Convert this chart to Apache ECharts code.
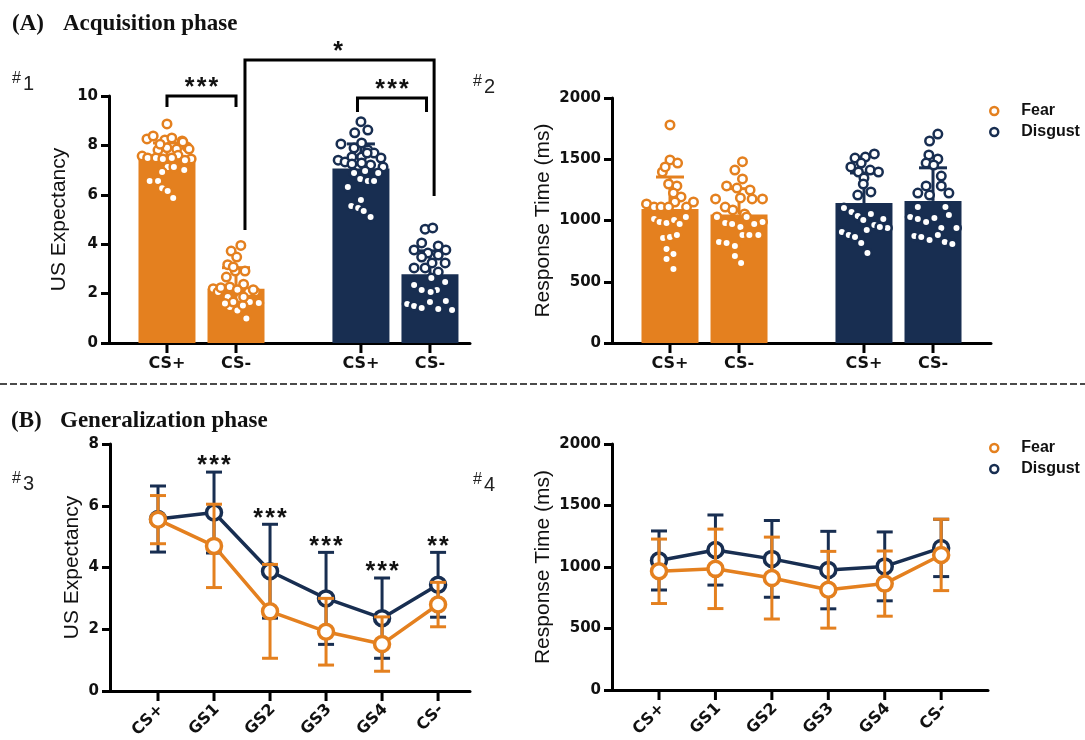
<!DOCTYPE html>
<html><head><meta charset="utf-8">
<script src="https://cdn.jsdelivr.net/npm/echarts@6/dist/echarts.min.js"></script>
<style>html,body{margin:0;padding:0;background:#fff}#c{width:1085px;height:740px}</style>
</head><body><div id="c"></div>
<script>
// ================= DATA =================
const acqCats = ['CS+', 'CS-', 'CS+', 'CS-'];
const genCats = ['CS+', 'GS1', 'GS2', 'GS3', 'GS4', 'CS-'];
const groups = ['Fear', 'Disgust'];

// Acquisition – US expectancy (bar means / SD)
const acqUSMeanFear = [7.5, 2.2];
const acqUSSdFear = [0.6, 0.85];
const acqUSMeanDisgust = [7.06, 2.78];
const acqUSSdDisgust = [1.0, 0.95];
// Acquisition – response time (bar means / SD)
const acqRTMeanFear = [1094, 1050];
const acqRTSdFear = [261, 210];
const acqRTMeanDisgust = [1143, 1160];
const acqRTSdDisgust = [245, 270];

// Individual points (values) and their horizontal jitter (in category units)
const usFearCSp = [8.87,8.26,8.38,8.22,8.30,8.18,7.94,7.81,7.85,7.60,7.45,7.57,7.49,7.49,7.45,7.49,7.40,7.13,7.13,6.92,7.00,6.56,6.56,6.27,6.15,5.87,8.14,7.85,7.90,8.05];
const usFearCSpJitter = [0,-0.29,-0.2,-0.03,0.07,0.22,0.29,-0.13,0.14,0.16,0.35,-0.36,-0.28,-0.16,-0.06,0.07,0.26,0.01,0.10,-0.07,0.25,-0.25,-0.13,-0.07,0.01,0.09,0.23,0.32,0,-0.1];
const usFearCSm = [3.95,3.72,3.48,3.17,2.91,2.91,2.67,2.38,2.27,2.20,2.06,2.16,2.06,1.86,1.82,1.66,1.62,1.46,1.32,0.99,2.24,2.06,1.66,1.52,3.08,2.16,1.60,1.86];
const usFearCSmJitter = [0.07,-0.07,0.01,-0.12,0.13,-0.01,-0.14,0.11,-0.09,-0.33,-0.26,0.02,0.28,-0.12,0.06,0.2,0.33,-0.09,0.02,0.15,-0.22,0.18,-0.04,0.1,-0.04,0.25,-0.16,0.11];
const usDisCSp = [8.96,8.51,8.62,8.06,7.89,8.10,7.81,7.69,7.40,7.33,7.53,7.53,7.49,7.21,7.13,7.25,7.29,6.88,6.96,6.88,6.64,6.56,6.56,6.32,5.79,5.55,5.47,5.34,5.10,7.69];
const usDisCSpJitter = [0,-0.09,0.10,-0.29,-0.10,0.01,0.10,0.19,-0.33,-0.23,-0.13,0.01,0.29,0.14,0.32,-0.13,0.01,-0.10,0.06,0.25,-0.01,0.10,0.19,-0.19,0,-0.14,-0.04,0.04,0.14,0.09];
const usDisCSm = [4.61,4.66,4.05,3.77,3.93,3.77,3.64,3.48,3.56,3.24,3.04,3.04,2.87,2.35,2.15,2.15,2.47,2.06,1.58,1.50,1.42,1.66,1.38,1.70,1.34,2.63,3.24];
const usDisCSmJitter = [-0.07,0.04,-0.12,-0.23,0.12,0.23,-0.03,-0.12,0.12,0.22,-0.23,-0.07,0.12,-0.23,-0.12,0.1,0.22,0.01,-0.33,-0.23,-0.12,0,0.12,0.23,0.32,0.02,0.03];

const rtFearCSp = [1780,1494,1469,1396,1437,1298,1282,1224,1192,1151,1135,1110,1110,1110,1110,1151,1012,988,980,1004,971,1029,857,865,882,767,727,686,604];
const rtFearCSpJitter = [0,0,0.11,-0.11,-0.07,-0.02,0.1,0.05,0.16,0.07,-0.34,-0.23,-0.13,-0.02,0.24,0.34,-0.23,-0.15,-0.05,0.06,0.14,0.23,-0.1,0,0.1,-0.05,0.05,-0.05,0.05];
const rtFearCSm = [1480,1412,1339,1282,1265,1249,1176,1176,1176,1184,1110,1086,1053,1029,1029,988,980,971,947,971,824,816,792,882,882,882,710,653];
const rtFearCSmJitter = [0.05,-0.06,0.05,-0.18,-0.03,0.16,-0.34,0.34,0.19,0.02,-0.2,-0.09,0.08,-0.32,0.11,0.34,-0.2,-0.1,0.02,0.22,-0.29,-0.18,-0.06,0.05,0.15,0.28,-0.06,0.03];
const rtDisCSp = [1510,1518,1543,1437,1469,1412,1396,1396,1347,1298,1208,1233,1102,1069,1037,1004,1053,963,1012,939,947,906,882,865,816,735,922];
const rtDisCSpJitter = [-0.13,0.02,0.15,-0.19,-0.04,0.09,0.21,-0.08,0,-0.01,-0.09,0.1,-0.29,-0.18,-0.09,-0.01,0.1,0.15,0.28,0.34,0.23,-0.32,-0.22,-0.13,-0.04,0.05,0.04];
const rtDisCSm = [1706,1649,1535,1502,1469,1453,1363,1282,1282,1224,1224,1208,1110,1110,1029,1012,988,1020,1045,939,939,873,865,841,882,824,808];
const rtDisCSmJitter = [0.07,-0.05,-0.06,0.07,-0.1,0.01,0.12,-0.1,0.12,-0.22,0.23,-0.05,-0.22,0.18,-0.33,-0.22,-0.1,0.02,0.23,0.12,0.34,-0.27,-0.17,-0.05,0.07,0.17,0.28];

// Generalization – means and SD
const genUSFear = [5.55, 4.70, 2.58, 1.92, 1.52, 2.80];
const genUSFearSd = [0.78, 1.35, 1.52, 1.08, 0.88, 0.72];
const genUSDisgust = [5.57, 5.78, 3.88, 3.00, 2.36, 3.44];
const genUSDisgustSd = [1.07, 1.31, 1.52, 1.49, 1.30, 1.05];
const genRTFear = [965, 985, 910, 815, 865, 1098];
const genRTFearSd = [262, 323, 333, 312, 265, 290];
const genRTDisgust = [1053, 1138, 1066, 975, 1005, 1155];
const genRTDisgustSd = [240, 285, 312, 315, 280, 233];
const genSig = ['', '***', '***', '***', '***', '**'];

// ================= LAYOUT / STYLE =================
const C_FEAR = '#E4801F', C_DIS = '#182E51';
const acqPos = [0, 1, 2.81, 3.81];
const genPos = [0, 1, 2, 3, 4, 5];
const TICK_FONT = '"DejaVu Sans", sans-serif';
const SANS = '"Liberation Sans", Arial, sans-serif';
const spaced = s => s.split('').join('\u200A');

function yAxisCfg(gi, max, interval, name, gap) {
  return {
    type: 'value', gridIndex: gi, min: 0, max: max, interval: interval,
    name: name, nameLocation: 'middle', nameGap: gap,
    nameTextStyle: { fontFamily: SANS, fontSize: 21, color: '#111' },
    axisLine: { show: true, onZero: false, lineStyle: { color: '#000', width: 3 } },
    axisTick: { show: true, length: 8, lineStyle: { color: '#000', width: 3 } },
    axisLabel: { margin: 11, fontFamily: TICK_FONT, fontWeight: 'bold', fontSize: 15, color: '#111',
      formatter: v => String(v) },
    splitLine: { show: false }
  };
}
function xAxisCfg(gi, min, max) {
  return {
    type: 'value', gridIndex: gi, min: min, max: max,
    axisLine: { show: true, onZero: false, lineStyle: { color: '#000', width: 3 } },
    axisTick: { show: false }, axisLabel: { show: false }, splitLine: { show: false }
  };
}
function xTickSeries(gi, positions, labels, rotate) {
  return {
    type: 'custom', xAxisIndex: gi, yAxisIndex: gi, silent: true, z: 10,
    data: positions.map(p => [p, 0]),
    renderItem: function (params, api) {
      const p = api.coord([api.value(0), 0]);
      const lab = labels[params.dataIndex];
      const tick = { type: 'line', shape: { x1: p[0], y1: p[1], x2: p[0], y2: p[1] + 10 },
        style: { stroke: '#000', lineWidth: 3 } };
      const text = rotate
        ? { type: 'text', x: p[0] + 3, y: p[1] + 16, rotation: Math.PI / 4,
            style: { text: lab, x: 0, y: 0, align: 'right', verticalAlign: 'middle',
              font: 'bold 16px ' + TICK_FONT, fill: '#111' } }
        : { type: 'text', x: p[0], y: p[1] + 21,
            style: { text: lab, x: 0, y: 0, align: 'center', verticalAlign: 'middle',
              font: 'bold 16px ' + TICK_FONT, fill: '#111' } };
      return { type: 'group', children: [tick, text] };
    }
  };
}
function errSeries(gi, xs, means, sds, color, capW, both, z) {
  return {
    type: 'custom', xAxisIndex: gi, yAxisIndex: gi, silent: true, z: z,
    data: means.map((m, i) => [xs[i], m, sds[i]]),
    renderItem: function (params, api) {
      const x = api.value(0), m = api.value(1), s = api.value(2);
      const t = api.coord([x, m + s]), b = api.coord([x, both ? m - s : m]);
      const st = { stroke: color, lineWidth: 3 };
      const ch = [
        { type: 'line', shape: { x1: t[0], y1: t[1], x2: b[0], y2: b[1] }, style: st },
        { type: 'line', shape: { x1: t[0] - capW / 2, y1: t[1], x2: t[0] + capW / 2, y2: t[1] }, style: st }
      ];
      if (both) ch.push({ type: 'line', shape: { x1: b[0] - capW / 2, y1: b[1], x2: b[0] + capW / 2, y2: b[1] }, style: st });
      return { type: 'group', children: ch };
    }
  };
}
function dotsData(pos, vals, jit) {
  return vals.map((v, i) => [pos + (jit[i] || 0), v]);
}
function scatterSeries(gi, name, color, data) {
  return {
    type: 'scatter', name: name, xAxisIndex: gi, yAxisIndex: gi, z: 5, silent: true,
    symbol: 'circle', symbolSize: 8.5,
    itemStyle: { color: '#fff', borderColor: color, borderWidth: 2.5, opacity: 1 },
    data: data
  };
}
function barSeries(gi, fearMeans, disMeans) {
  const d = [];
  fearMeans.forEach((m, i) => d.push({ value: [acqPos[i], m], itemStyle: { color: C_FEAR } }));
  disMeans.forEach((m, i) => d.push({ value: [acqPos[i + 2], m], itemStyle: { color: C_DIS } }));
  return { type: 'bar', xAxisIndex: gi, yAxisIndex: gi, barWidth: 57, z: 2, silent: true, data: d };
}
function lineSeries(gi, name, color, vals, z) {
  return {
    type: 'line', name: name, xAxisIndex: gi, yAxisIndex: gi, z: z, silent: true,
    data: vals.map((v, i) => [genPos[i], v]),
    symbol: 'circle', symbolSize: 15,
    itemStyle: { color: '#fff', borderColor: color, borderWidth: 3.5 },
    lineStyle: { color: color, width: 3.5 }
  };
}

// significance brackets (panel #1)
const brackets = [
  { pts: [[0, 9.55], [0, 10.0], [1, 10.0], [1, 9.55]], label: '***', at: [0.5, 10.0] },
  { pts: [[2.76, 9.35], [2.76, 9.92], [3.76, 9.92], [3.76, 9.35]], label: '***', at: [3.26, 9.92] },
  { pts: [[1.13, 4.57], [1.13, 11.46], [3.87, 11.46], [3.87, 5.95]], label: '*', at: [2.48, 11.46] }
];
const bracketSeries = {
  type: 'custom', xAxisIndex: 0, yAxisIndex: 0, silent: true, z: 10,
  data: brackets.map(b => [b.at[0], b.at[1]]),
  renderItem: function (params, api) {
    const b = brackets[params.dataIndex];
    const pts = b.pts.map(p => api.coord(p));
    const a = api.coord(b.at);
    return { type: 'group', children: [
      { type: 'polyline', shape: { points: pts }, style: { stroke: '#000', lineWidth: 3, fill: null } },
      { type: 'text', x: a[0], y: a[1] + 5, style: { text: spaced(b.label), x: 0, y: 0, align: 'center',
        verticalAlign: 'bottom', font: 'bold 25px ' + SANS, fill: '#111' } }
    ] };
  }
};
const sigSeries = {
  type: 'custom', xAxisIndex: 2, yAxisIndex: 2, silent: true, z: 10,
  data: genUSDisgust.map((m, i) => [genPos[i], m + genUSDisgustSd[i]]),
  renderItem: function (params, api) {
    const p = api.coord([api.value(0), api.value(1)]);
    return { type: 'text', x: p[0], y: p[1] + 7, style: { text: spaced(genSig[params.dataIndex]), x: 0, y: 0,
      align: 'center', verticalAlign: 'bottom', font: 'bold 25px ' + SANS, fill: '#111' } };
  }
};

function legendCfg(top) {
  return {
    orient: 'vertical', left: 984, top: top, itemWidth: 12, itemHeight: 8, itemGap: 5,
    selectedMode: false,
    textStyle: { fontFamily: SANS, fontWeight: 'bold', fontSize: 16, color: '#111', padding: [0, 0, 0, 16] },
    data: [
      { name: 'Fear', icon: 'circle', itemStyle: { color: '#fff', borderColor: C_FEAR, borderWidth: 2.5 } },
      { name: 'Disgust', icon: 'circle', itemStyle: { color: '#fff', borderColor: C_DIS, borderWidth: 2.5 } }
    ]
  };
}

function hashLabel(x, y, num) {
  return [
    { type: 'text', left: x, top: y + 1, style: { text: '#', font: '16px ' + SANS, fill: '#222' } },
    { type: 'text', left: x + 11, top: y + 4, style: { text: num, font: '20px ' + SANS, fill: '#222' } }
  ];
}

const option = {
  animation: false,
  backgroundColor: '#fff',
  grid: [
    { left: 109, top: 96, width: 361, height: 247 },
    { left: 612, top: 98, width: 379, height: 245 },
    { left: 110, top: 444, width: 360, height: 247 },
    { left: 612, top: 444, width: 376, height: 246 }
  ],
  xAxis: [xAxisCfg(0, -0.84, 4.39), xAxisCfg(1, -0.84, 4.65), xAxisCfg(2, -0.857, 5.57), xAxisCfg(3, -0.833, 5.83)],
  yAxis: [
    yAxisCfg(0, 10, 2, 'US Expectancy', 39),
    yAxisCfg(1, 2000, 500, 'Response Time (ms)', 58),
    yAxisCfg(2, 8, 2, 'US Expectancy', 27),
    yAxisCfg(3, 2000, 500, 'Response Time (ms)', 58)
  ],
  legend: [legendCfg(98), legendCfg(435)],
  graphic: [
    { type: 'text', left: 12, top: 13, style: { text: '(A)', font: 'bold 23px "Liberation Serif", serif', fill: '#111' } },
    { type: 'text', left: 63, top: 13, style: { text: 'Acquisition phase', font: 'bold 23px "Liberation Serif", serif', fill: '#111' } },
    { type: 'text', left: 11, top: 410, style: { text: '(B)', font: 'bold 23px "Liberation Serif", serif', fill: '#111' } },
    { type: 'text', left: 60, top: 410, style: { text: 'Generalization phase', font: 'bold 23px "Liberation Serif", serif', fill: '#111' } },
    ...hashLabel(12, 70, '1'), ...hashLabel(473, 73, '2'), ...hashLabel(12, 470, '3'), ...hashLabel(473, 471, '4'),
    { type: 'line', shape: { x1: 0, y1: 384, x2: 1085, y2: 384 }, style: { stroke: '#111', lineWidth: 1.5, lineDash: [7, 3] } }
  ],
  series: [
    // Panel 1
    barSeries(0, acqUSMeanFear, acqUSMeanDisgust),
    errSeries(0, acqPos.slice(0, 2), acqUSMeanFear, acqUSSdFear, C_FEAR, 28, false, 3),
    errSeries(0, acqPos.slice(2), acqUSMeanDisgust, acqUSSdDisgust, C_DIS, 28, false, 3),
    scatterSeries(0, 'Fear', C_FEAR, dotsData(acqPos[0], usFearCSp, usFearCSpJitter).concat(dotsData(acqPos[1], usFearCSm, usFearCSmJitter))),
    scatterSeries(0, 'Disgust', C_DIS, dotsData(acqPos[2], usDisCSp, usDisCSpJitter).concat(dotsData(acqPos[3], usDisCSm, usDisCSmJitter))),
    xTickSeries(0, acqPos, acqCats, false),
    bracketSeries,
    // Panel 2
    barSeries(1, acqRTMeanFear, acqRTMeanDisgust),
    errSeries(1, acqPos.slice(0, 2), acqRTMeanFear, acqRTSdFear, C_FEAR, 28, false, 3),
    errSeries(1, acqPos.slice(2), acqRTMeanDisgust, acqRTSdDisgust, C_DIS, 28, false, 3),
    scatterSeries(1, 'Fear', C_FEAR, dotsData(acqPos[0], rtFearCSp, rtFearCSpJitter).concat(dotsData(acqPos[1], rtFearCSm, rtFearCSmJitter))),
    scatterSeries(1, 'Disgust', C_DIS, dotsData(acqPos[2], rtDisCSp, rtDisCSpJitter).concat(dotsData(acqPos[3], rtDisCSm, rtDisCSmJitter))),
    xTickSeries(1, acqPos, acqCats, false),
    // Panel 3
    errSeries(2, genPos, genUSDisgust, genUSDisgustSd, C_DIS, 16, true, 3),
    lineSeries(2, 'Disgust', C_DIS, genUSDisgust, 4),
    errSeries(2, genPos, genUSFear, genUSFearSd, C_FEAR, 16, true, 5),
    lineSeries(2, 'Fear', C_FEAR, genUSFear, 6),
    xTickSeries(2, genPos, genCats, true),
    sigSeries,
    // Panel 4
    errSeries(3, genPos, genRTDisgust, genRTDisgustSd, C_DIS, 16, true, 3),
    lineSeries(3, 'Disgust', C_DIS, genRTDisgust, 4),
    errSeries(3, genPos, genRTFear, genRTFearSd, C_FEAR, 16, true, 5),
    lineSeries(3, 'Fear', C_FEAR, genRTFear, 6),
    xTickSeries(3, genPos, genCats, true)
  ]
};
const chart = echarts.init(document.getElementById('c'), null, { renderer: 'canvas' });
chart.setOption(option);
</script></body></html>
